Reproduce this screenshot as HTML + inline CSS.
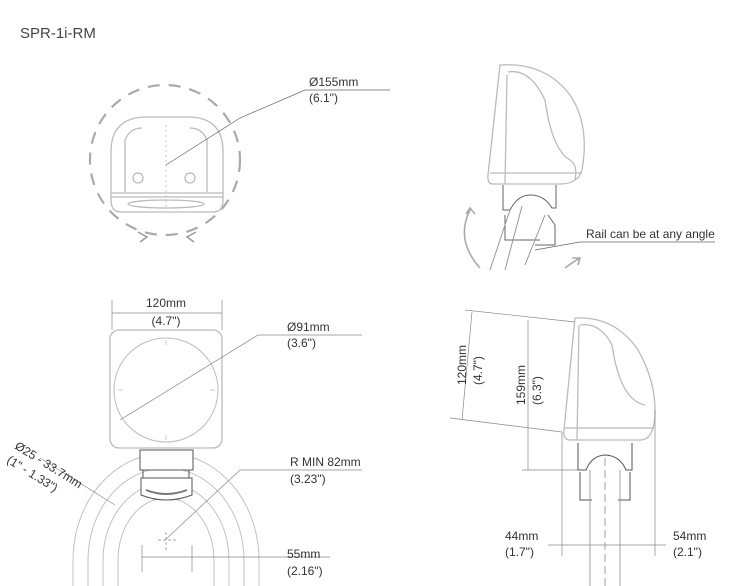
<!DOCTYPE html>
<html><head><meta charset="utf-8"><style>
html,body{margin:0;padding:0;background:#fff;}
svg{display:block;font-family:"Liberation Sans",sans-serif;}
text{fill:#333;font-size:12px;}
</style></head><body>
<svg width="730" height="586" viewBox="0 0 730 586" xmlns="http://www.w3.org/2000/svg">
<text x="20" y="38" style="font-size:15px;fill:#444">SPR-1i-RM</text>

<!-- Top-left view -->
<g fill="none" stroke="#bbb" stroke-width="1.3">
<circle cx="165" cy="160" r="75" stroke="#aaa" stroke-width="2.2" stroke-dasharray="12,9" />
<path d="M111 200 L111 150 Q112 118 145 117 L190 117 Q222 118 223 150 L223 200 Q223 212 213 212 L121 212 Q111 212 111 200 Z"/>
<path d="M111 193 L223 193 M111 197 L223 197"/>
<ellipse cx="166" cy="204" rx="38" ry="4"/>
<path d="M125 192 L125 140 Q130 128 142 128 M207 192 L207 140 Q202 128 190 128"/>
<circle cx="138" cy="178" r="5"/><circle cx="190" cy="178" r="5"/>
<path d="M166 125 L166 210" stroke-dasharray="2,3" stroke-width="0.8"/>
<path d="M138 232 L147 237 L140 242 M196 232 L187 237 L194 242" stroke="#999" stroke-width="1.5"/>
</g>
<path d="M166 165 L240 118 L305 90 L390 90" fill="none" stroke="#666" stroke-width="0.7"/>
<text x="309" y="86">Ø155mm</text><text x="309" y="102">(6.1")</text>

<!-- Top-right view -->
<g fill="none" stroke="#bbb" stroke-width="1.3">
<path d="M500 65 Q545 62 570 95 Q590 125 582 170 Q578 184 560 184 L493 184 Q487 184 488 175 Z"/>
<path d="M508 72 Q530 68 545 100 Q552 150 570 160 Q578 165 575 180 M507 75 L505 184"/>
<path d="M490 173 L582 173"/>
<path d="M470 210 Q455 240 480 268 M466 214 L470 208 L475 214 M565 268 Q573 262 580 258 M572 258 L580 258 L578 265" stroke="#aaa" stroke-width="1.6"/>
</g>
<g fill="none" stroke="#666" stroke-width="1">
<path d="M503 185 L503 210 L510 210 Q518 194 532 195 Q545 196 552 208 L556 208 L556 185"/>
<path d="M505 215 L505 240 L540 240 M548 215 L555 225 L555 245 L535 245"/>
<path d="M490 270 L510 210 M505 270 L522 206 M525 265 L545 215" stroke="#999"/>
</g>
<path d="M535 250 L580 242 L715 242" fill="none" stroke="#666" stroke-width="0.7"/>
<text x="586" y="238">Rail can be at any angle</text>

<!-- Bottom-left view -->
<g fill="none" stroke="#bbb" stroke-width="0.9">
<path d="M73 586 V560 A93 107 0 0 1 259 560 V586"/>
<path d="M88 586 V560 A78 92 0 0 1 244 560 V586"/>
<path d="M103 586 V560 A63 77 0 0 1 229 560 V586"/>
<path d="M118 586 V560 A48 62 0 0 1 214 560 V586"/>
</g>
<g fill="#fff" stroke="#bbb" stroke-width="1.3">
<rect x="110" y="330" width="112" height="118" rx="9"/>
<circle cx="166" cy="390" r="52" stroke-width="1" fill="none"/>
<path d="M166 340v5M166 435v5M118 390h5M210 390h5" stroke-width="0.8" fill="none"/>
</g>
<g fill="none" stroke="#888" stroke-width="0.7">
<path d="M112 300V330M222 300V330M112 313H222"/>
<path d="M120 420 L258 335 L362 335"/>
<path d="M165 540 L240 470 L362 470"/>
<path d="M142 545V572M192 545V572M142 557H330"/>
<path d="M158 540H176M166 532V550" stroke-dasharray="3,2"/>
<path d="M40 458 L115 505" />
</g>
<g fill="#fff" stroke="#555" stroke-width="1">
<rect x="140" y="450" width="53" height="20"/>
<path d="M143 470v8M189 470v8" fill="none"/>
<path d="M141 478 H192 V495 Q166 505 141 495 Z"/>
<path d="M146 490 Q166 498 187 490" stroke="#777" stroke-width="2" fill="none"/>
</g>
<text x="166" y="307" text-anchor="middle">120mm</text><text x="166" y="325" text-anchor="middle">(4.7")</text>
<text x="287" y="331">Ø91mm</text><text x="287" y="347">(3.6")</text>
<text x="290" y="466">R MIN 82mm</text><text x="290" y="483">(3.23")</text>
<text x="287" y="558">55mm</text><text x="287" y="575">(2.16")</text>
<text transform="translate(14,448) rotate(32)">Ø25 - 33.7mm</text>
<text transform="translate(6,462) rotate(32)">(1" - 1.33")</text>

<!-- Bottom-right view -->
<g fill="none" stroke="#bbb" stroke-width="1.3">
<path d="M575 318 Q615 316 638 350 Q655 380 655 410 Q655 440 640 440 L570 440 Q563 440 564 430 Z"/>
<path d="M580 325 Q600 322 612 345 Q620 400 645 405 M579 325 L577 440"/>
<path d="M565 428 L654 428"/>
</g>
<g fill="none" stroke="#888" stroke-width="0.7">
<path d="M465 310 L575 322 M450 418 L562 432"/>
<path d="M472 312 L462 420"/>
<path d="M528 320 V470 M522 470 H585"/>
<path d="M562 432 V556 M655 410 V556 M548 545 H666"/>
</g>
<g fill="none" stroke="#555" stroke-width="1">
<path d="M578 443 L578 470 L586 470 Q592 455 606 455 Q620 456 626 470 L632 470 L632 443"/>
<path d="M580 472 V500 L592 500 M630 472 V500 L618 500"/>
</g>
<g fill="none" stroke="#999" stroke-width="0.9">
<path d="M590 470V586M620 470V586"/>
<path d="M605 458V586" stroke-dasharray="8,4"/>
</g>
<text transform="translate(466,385) rotate(-90)">120mm</text>
<text transform="translate(482,385) rotate(-90)">(4.7")</text>
<text transform="translate(525,405) rotate(-90)">159mm</text>
<text transform="translate(541,405) rotate(-90)">(6.3")</text>
<text x="505" y="540">44mm</text><text x="505" y="556">(1.7")</text>
<text x="673" y="540">54mm</text><text x="673" y="556">(2.1")</text>
</svg>
</body></html>
